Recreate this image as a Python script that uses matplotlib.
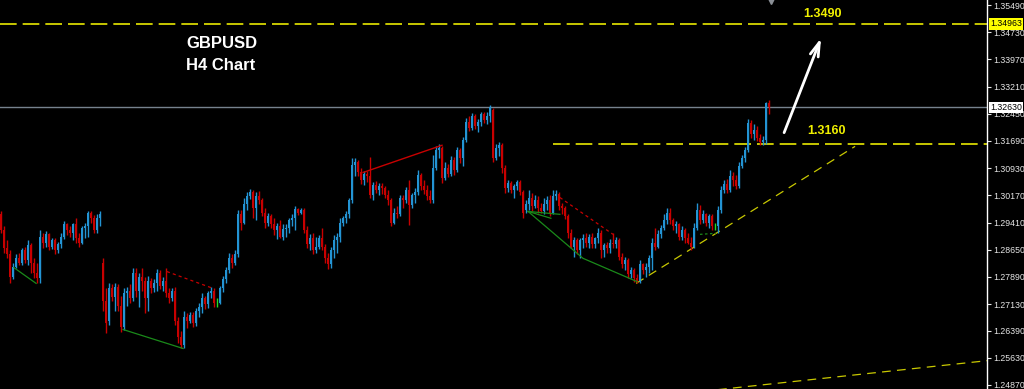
import numpy as np
import matplotlib
matplotlib.use("Agg")
import matplotlib.pyplot as plt
import matplotlib.transforms as mtransforms

# GBPUSD H4 candles (one entry per bar, left to right)
opens = [
    1.2964, 1.2919, 1.2869, 1.2852, 1.2790, 1.2818, 1.2841, 1.2827, 1.2863, 1.2835,
    1.2877, 1.2829, 1.2801, 1.2785, 1.2902, 1.2883, 1.2908, 1.2874, 1.2891, 1.2863,
    1.2880, 1.2902, 1.2936, 1.2919, 1.2911, 1.2936, 1.2897, 1.2885, 1.2925, 1.2930,
    1.2967, 1.2953, 1.2919, 1.2953, 1.2829, 1.2723, 1.2667, 1.2759, 1.2734, 1.2762,
    1.2709, 1.2650, 1.2745, 1.2751, 1.2729, 1.2801, 1.2751, 1.2790, 1.2779, 1.2729,
    1.2779, 1.2757, 1.2773, 1.2801, 1.2765, 1.2779, 1.2745, 1.2729, 1.2751, 1.2667,
    1.2622, 1.2600, 1.2678, 1.2667, 1.2684, 1.2661, 1.2695, 1.2706, 1.2729, 1.2712,
    1.2743, 1.2751, 1.2717, 1.2717, 1.2757, 1.2782, 1.2807, 1.2841, 1.2829, 1.2852,
    1.2964, 1.2941, 1.2992, 1.3014, 1.3025, 1.2981, 1.3014, 1.3003, 1.2969, 1.2941,
    1.2958, 1.2936, 1.2919, 1.2930, 1.2902, 1.2922, 1.2927, 1.2947, 1.2953, 1.2978,
    1.2969, 1.2975, 1.2919, 1.2880, 1.2897, 1.2863, 1.2874, 1.2897, 1.2874, 1.2841,
    1.2824, 1.2863, 1.2891, 1.2902, 1.2941, 1.2953, 1.2964, 1.3003, 1.3101, 1.3109,
    1.3081, 1.3059, 1.3076, 1.3070, 1.3017, 1.3045, 1.3031, 1.3042, 1.3037, 1.3017,
    1.3003, 1.2941, 1.2969, 1.2964, 1.3009, 1.3003, 1.3031, 1.2989, 1.3017, 1.3025,
    1.3073, 1.3042, 1.3031, 1.3014, 1.3003, 1.3093, 1.3143, 1.3149, 1.3065, 1.3093,
    1.3076, 1.3115, 1.3087, 1.3143, 1.3121, 1.3171, 1.3221, 1.3205, 1.3238, 1.3210,
    1.3221, 1.3244, 1.3227, 1.3238, 1.3255, 1.3121, 1.3149, 1.3157, 1.3093, 1.3037,
    1.3051, 1.3031, 1.3042, 1.3053, 1.3025, 1.2975, 1.2992, 1.3009, 1.2986, 1.3003,
    1.2981, 1.2972, 1.2992, 1.3003, 1.2969, 1.3014, 1.3020, 1.2986, 1.2981, 1.2958,
    1.2913, 1.2874, 1.2891, 1.2863, 1.2891, 1.2897, 1.2883, 1.2902, 1.2880, 1.2897,
    1.2913, 1.2863, 1.2877, 1.2869, 1.2885, 1.2880, 1.2891, 1.2846, 1.2824, 1.2835,
    1.2796, 1.2807, 1.2785, 1.2779, 1.2824, 1.2807, 1.2818, 1.2841, 1.2885, 1.2874,
    1.2908, 1.2925, 1.2947, 1.2969, 1.2947, 1.2930, 1.2936, 1.2902, 1.2919, 1.2897,
    1.2885, 1.2874, 1.2925, 1.2975, 1.2947, 1.2964, 1.2941, 1.2958, 1.2930, 1.2930,
    1.2975, 1.3031, 1.3048, 1.3031, 1.3070, 1.3059, 1.3042, 1.3098, 1.3121, 1.3143,
    1.3219, 1.3188, 1.3199, 1.3177, 1.3165, 1.3171, 1.3275,
]
highs = [
    1.2972, 1.2930, 1.2891, 1.2863, 1.2829, 1.2852, 1.2855, 1.2871, 1.2874, 1.2891,
    1.2883, 1.2841, 1.2829, 1.2919, 1.2911, 1.2916, 1.2913, 1.2897, 1.2897, 1.2888,
    1.2911, 1.2944, 1.2941, 1.2930, 1.2941, 1.2955, 1.2913, 1.2930, 1.2941, 1.2972,
    1.2972, 1.2961, 1.2964, 1.2972, 1.2841, 1.2759, 1.2773, 1.2768, 1.2771, 1.2768,
    1.2737, 1.2757, 1.2762, 1.2768, 1.2813, 1.2813, 1.2801, 1.2813, 1.2790, 1.2793,
    1.2785, 1.2782, 1.2810, 1.2807, 1.2790, 1.2815, 1.2757, 1.2759, 1.2762, 1.2678,
    1.2639, 1.2695, 1.2689, 1.2692, 1.2692, 1.2703, 1.2715, 1.2743, 1.2737, 1.2751,
    1.2762, 1.2759, 1.2729, 1.2765, 1.2793, 1.2818, 1.2857, 1.2852, 1.2863, 1.2975,
    1.2975, 1.3009, 1.3025, 1.3034, 1.3031, 1.3025, 1.3028, 1.3009, 1.2981, 1.2967,
    1.2964, 1.2953, 1.2941, 1.2947, 1.2936, 1.2936, 1.2955, 1.2964, 1.2986, 1.2983,
    1.2983, 1.2981, 1.2930, 1.2908, 1.2911, 1.2902, 1.2905, 1.2927, 1.2880, 1.2857,
    1.2874, 1.2905, 1.2911, 1.2955, 1.2958, 1.2972, 1.3011, 1.3121, 1.3121, 1.3115,
    1.3093, 1.3084, 1.3084, 1.3123, 1.3053, 1.3056, 1.3051, 1.3051, 1.3042, 1.3031,
    1.3011, 1.2983, 1.2986, 1.3017, 1.3017, 1.3039, 1.3059, 1.3023, 1.3037, 1.3087,
    1.3079, 1.3059, 1.3045, 1.3031, 1.3129, 1.3154, 1.3160, 1.3154, 1.3109, 1.3104,
    1.3126, 1.3123, 1.3151, 1.3149, 1.3179, 1.3233, 1.3238, 1.3247, 1.3244, 1.3230,
    1.3249, 1.3249, 1.3249, 1.3269, 1.3261, 1.3160, 1.3165, 1.3163, 1.3101, 1.3059,
    1.3056, 1.3048, 1.3059, 1.3059, 1.3031, 1.3003, 1.3031, 1.3023, 1.3017, 1.3014,
    1.2997, 1.3011, 1.3014, 1.3017, 1.3031, 1.3031, 1.3025, 1.2995, 1.2986, 1.2964,
    1.2922, 1.2902, 1.2897, 1.2899, 1.2908, 1.2911, 1.2908, 1.2913, 1.2902, 1.2925,
    1.2919, 1.2885, 1.2888, 1.2894, 1.2913, 1.2902, 1.2897, 1.2857, 1.2846, 1.2841,
    1.2818, 1.2813, 1.2796, 1.2835, 1.2829, 1.2829, 1.2849, 1.2897, 1.2925, 1.2919,
    1.2933, 1.2964, 1.2983, 1.2981, 1.2953, 1.2944, 1.2941, 1.2930, 1.2925, 1.2911,
    1.2902, 1.2941, 1.2995, 1.2989, 1.2975, 1.2969, 1.2964, 1.2964, 1.2941, 1.2986,
    1.3042, 1.3059, 1.3062, 1.3087, 1.3081, 1.3073, 1.3109, 1.3129, 1.3151, 1.3230,
    1.3227, 1.3216, 1.3210, 1.3188, 1.3182, 1.3277, 1.3283,
]
lows = [
    1.2911, 1.2857, 1.2841, 1.2771, 1.2782, 1.2813, 1.2821, 1.2821, 1.2827, 1.2821,
    1.2799, 1.2787, 1.2771, 1.2773, 1.2871, 1.2874, 1.2863, 1.2866, 1.2852, 1.2855,
    1.2871, 1.2894, 1.2905, 1.2902, 1.2891, 1.2883, 1.2874, 1.2880, 1.2899, 1.2902,
    1.2941, 1.2911, 1.2913, 1.2930, 1.2695, 1.2633, 1.2656, 1.2723, 1.2695, 1.2695,
    1.2636, 1.2642, 1.2709, 1.2717, 1.2723, 1.2734, 1.2706, 1.2751, 1.2689, 1.2695,
    1.2745, 1.2748, 1.2751, 1.2754, 1.2751, 1.2734, 1.2717, 1.2723, 1.2656, 1.2605,
    1.2589, 1.2591, 1.2645, 1.2659, 1.2650, 1.2653, 1.2678, 1.2689, 1.2698, 1.2703,
    1.2729, 1.2706, 1.2706, 1.2712, 1.2748, 1.2771, 1.2799, 1.2813, 1.2821, 1.2846,
    1.2919, 1.2936, 1.2975, 1.3006, 1.2955, 1.2947, 1.2992, 1.2958, 1.2925, 1.2930,
    1.2925, 1.2905, 1.2894, 1.2897, 1.2891, 1.2902, 1.2913, 1.2930, 1.2919, 1.2961,
    1.2964, 1.2913, 1.2869, 1.2863, 1.2852, 1.2857, 1.2866, 1.2863, 1.2829, 1.2810,
    1.2815, 1.2841, 1.2855, 1.2888, 1.2930, 1.2941, 1.2953, 1.2997, 1.3070, 1.3070,
    1.3048, 1.3045, 1.3053, 1.3009, 1.3003, 1.3023, 1.3017, 1.3020, 1.3009, 1.2989,
    1.2930, 1.2936, 1.2953, 1.2958, 1.2981, 1.2997, 1.2933, 1.2981, 1.2997, 1.3017,
    1.3031, 1.3020, 1.3003, 1.2995, 1.2997, 1.3087, 1.3121, 1.3051, 1.3059, 1.3067,
    1.3070, 1.3073, 1.3081, 1.3107, 1.3098, 1.3165, 1.3196, 1.3199, 1.3202, 1.3193,
    1.3210, 1.3219, 1.3216, 1.3221, 1.3109, 1.3115, 1.3126, 1.3079, 1.3023, 1.3025,
    1.3023, 1.3011, 1.3031, 1.3017, 1.2953, 1.2967, 1.2975, 1.2972, 1.2981, 1.2967,
    1.2967, 1.2964, 1.2975, 1.2958, 1.2964, 1.3003, 1.2975, 1.2964, 1.2950, 1.2899,
    1.2869, 1.2846, 1.2852, 1.2841, 1.2869, 1.2874, 1.2871, 1.2869, 1.2869, 1.2885,
    1.2843, 1.2846, 1.2857, 1.2857, 1.2871, 1.2869, 1.2835, 1.2813, 1.2807, 1.2787,
    1.2787, 1.2776, 1.2773, 1.2773, 1.2796, 1.2790, 1.2801, 1.2807, 1.2863, 1.2869,
    1.2897, 1.2919, 1.2936, 1.2936, 1.2919, 1.2913, 1.2891, 1.2891, 1.2885, 1.2880,
    1.2863, 1.2869, 1.2919, 1.2936, 1.2941, 1.2930, 1.2925, 1.2919, 1.2919, 1.2913,
    1.2969, 1.3023, 1.3023, 1.3025, 1.3042, 1.3034, 1.3037, 1.3093, 1.3109, 1.3137,
    1.3177, 1.3171, 1.3168, 1.3157, 1.3157, 1.3160, 1.3244,
]
closes = [
    1.2919, 1.2869, 1.2852, 1.2790, 1.2818, 1.2841, 1.2827, 1.2863, 1.2835, 1.2877,
    1.2829, 1.2801, 1.2785, 1.2902, 1.2883, 1.2908, 1.2874, 1.2891, 1.2863, 1.2880,
    1.2902, 1.2936, 1.2919, 1.2911, 1.2936, 1.2897, 1.2885, 1.2925, 1.2930, 1.2967,
    1.2953, 1.2919, 1.2953, 1.2964, 1.2723, 1.2661, 1.2759, 1.2734, 1.2762, 1.2709,
    1.2650, 1.2745, 1.2751, 1.2729, 1.2801, 1.2751, 1.2790, 1.2779, 1.2729, 1.2779,
    1.2757, 1.2773, 1.2801, 1.2765, 1.2779, 1.2745, 1.2729, 1.2751, 1.2667, 1.2622,
    1.2600, 1.2678, 1.2667, 1.2684, 1.2661, 1.2695, 1.2706, 1.2729, 1.2712, 1.2743,
    1.2751, 1.2717, 1.2717, 1.2757, 1.2782, 1.2807, 1.2841, 1.2829, 1.2852, 1.2964,
    1.2941, 1.2992, 1.3014, 1.3025, 1.2981, 1.3014, 1.3003, 1.2969, 1.2941, 1.2958,
    1.2936, 1.2919, 1.2930, 1.2902, 1.2922, 1.2927, 1.2947, 1.2953, 1.2978, 1.2969,
    1.2975, 1.2919, 1.2880, 1.2897, 1.2863, 1.2874, 1.2897, 1.2874, 1.2841, 1.2824,
    1.2863, 1.2891, 1.2902, 1.2941, 1.2953, 1.2964, 1.3003, 1.3101, 1.3109, 1.3081,
    1.3059, 1.3076, 1.3070, 1.3017, 1.3045, 1.3031, 1.3042, 1.3037, 1.3017, 1.3003,
    1.2941, 1.2969, 1.2964, 1.3009, 1.3003, 1.3031, 1.2989, 1.3017, 1.3025, 1.3073,
    1.3042, 1.3031, 1.3014, 1.3003, 1.3093, 1.3143, 1.3149, 1.3065, 1.3093, 1.3076,
    1.3115, 1.3087, 1.3143, 1.3121, 1.3171, 1.3221, 1.3205, 1.3238, 1.3210, 1.3221,
    1.3244, 1.3227, 1.3238, 1.3263, 1.3121, 1.3149, 1.3157, 1.3093, 1.3037, 1.3051,
    1.3031, 1.3042, 1.3053, 1.3025, 1.2969, 1.2992, 1.3009, 1.2986, 1.3003, 1.2981,
    1.2972, 1.2992, 1.3003, 1.2969, 1.3014, 1.3020, 1.2986, 1.2981, 1.2958, 1.2913,
    1.2874, 1.2891, 1.2863, 1.2891, 1.2897, 1.2883, 1.2902, 1.2880, 1.2897, 1.2913,
    1.2863, 1.2877, 1.2869, 1.2885, 1.2880, 1.2891, 1.2846, 1.2824, 1.2835, 1.2796,
    1.2807, 1.2785, 1.2779, 1.2824, 1.2807, 1.2818, 1.2841, 1.2885, 1.2874, 1.2908,
    1.2925, 1.2947, 1.2969, 1.2947, 1.2930, 1.2936, 1.2902, 1.2919, 1.2897, 1.2885,
    1.2874, 1.2925, 1.2975, 1.2947, 1.2964, 1.2941, 1.2958, 1.2930, 1.2930, 1.2975,
    1.3031, 1.3048, 1.3031, 1.3070, 1.3059, 1.3042, 1.3098, 1.3121, 1.3143, 1.3219,
    1.3188, 1.3199, 1.3177, 1.3165, 1.3171, 1.3275, 1.3263,
]

# horizontal levels
target_level = 1.34963
target_text = "1.3490"
support_level = 1.3160
support_text = "1.3160"
support_start = 184
bid_price = 1.32630

# drawn objects: (bar index list, price list)
trend_up = ([211.7, 284.7], [1.2771, 1.3154])
trend_low = ([239.0, 328.7], [1.2474, 1.2555])
green_lines = [
    ([4.3, 11.7], [1.2815, 1.2771]),
    ([40.7, 60.7], [1.2642, 1.2589]),
    ([175.7, 194.0, 212.0], [1.2972, 1.2841, 1.2776]),
    ([175.7, 186.3], [1.2972, 1.2964]),
    ([175.7, 183.3], [1.2972, 1.2953]),
]
green_dotted = ([233.0, 238.3], [1.2908, 1.2911])
red_dotted = [
    ([55.3, 70.7], [1.2804, 1.2757]),
    ([186.3, 204.0], [1.3011, 1.2908]),
]
red_line = ([120.7, 147.0], [1.3081, 1.3157])
arrow_from = (260.7, 1.3185)
arrow_to = (273.7, 1.3464)
shift_mark = 256.7

tick_values = [1.35490, 1.34730, 1.33970, 1.33210, 1.32450, 1.31690, 1.30930,
               1.30170, 1.29410, 1.28650, 1.27890, 1.27130, 1.26390, 1.25630, 1.24870]
tick_labels = ["1.35490", "1.34730", "1.33970", "1.33210", "1.32450", "1.31690", "1.30930",
               "1.30170", "1.29410", "1.28650", "1.27890", "1.27130", "1.26390", "1.25630", "1.24870"]

UP = "#2394d4"
DOWN = "#c80000"
DOJI = "#22dd22"
YELLOW = "#e8e800"
LABEL_FONT = "Liberation Sans"

assert len(opens) == len(highs) == len(lows) == len(closes)

op = np.array(opens)
hi = np.array(highs)
lo = np.array(lows)
cl = np.array(closes)
idx = np.arange(len(cl))
colors = np.where(cl > op, UP, np.where(cl < op, DOWN, DOJI))

fig = plt.figure(figsize=(10.24, 3.89), dpi=100, facecolor="black")
ax = fig.add_axes([0, 0, 987 / 1024, 1])
ax.set_facecolor("black")

ax.vlines(idx, lo, hi, colors=colors, lw=1.0, zorder=3)
ax.bar(idx, cl - op, bottom=op, width=0.8, color=colors, linewidth=0, zorder=3)

# levels
ax.axhline(bid_price, color="#76828e", lw=1.0, zorder=2)
ax.axhline(target_level, color=YELLOW, lw=1.2, linestyle=(0, (10, 3.6)), zorder=2)
ax.plot([support_start, 330], [support_level, support_level], color=YELLOW, lw=1.2,
        linestyle=(0, (10, 3.6)), zorder=2)

# trend lines
ax.plot(*trend_up, color="#c8c800", lw=0.9, linestyle=(0, (7, 5)), zorder=2)
ax.plot(*trend_low, color="#c8c800", lw=0.9, linestyle=(0, (7, 5)), zorder=2)
for xs, ys in green_lines:
    ax.plot(xs, ys, color="#1a8a1a", lw=0.9, zorder=4)
ax.plot(*green_dotted, color="#1a8a1a", lw=0.9, linestyle=(0, (2, 2)), zorder=4)
for xs, ys in red_dotted:
    ax.plot(xs, ys, color="#c80000", lw=0.9, linestyle=(0, (2.5, 2.5)), zorder=4)
ax.plot(*red_line, color="#c80000", lw=1.0, zorder=4)

ax.annotate("", xy=arrow_to, xytext=arrow_from,
            arrowprops=dict(arrowstyle="->,head_length=1.0,head_width=0.3",
                            color="white", lw=2), zorder=5)

ax.text(273.7, 1.3524, target_text, color="#f0f000", fontsize=9, fontweight="bold",
        family=LABEL_FONT, ha="center", va="center")
ax.text(275.0, 1.3196, support_text, color="#f0f000", fontsize=9, fontweight="bold",
        family=LABEL_FONT, ha="center", va="center")

fig.text(186 / 1024, 1 - 44 / 389, "GBPUSD", color="white", fontsize=12,
         fontweight="bold", family=LABEL_FONT, ha="left", va="center")
fig.text(186 / 1024, 1 - 66 / 389, "H4 Chart", color="white", fontsize=12,
         fontweight="bold", family=LABEL_FONT, ha="left", va="center")

# chart shift marker
ax.plot([shift_mark], [1.0], marker="v", color="#8a8f96", markersize=6,
        transform=mtransforms.blended_transform_factory(ax.transData, ax.transAxes),
        clip_on=False)

ax.set_xlim(-1 / 3, 986 / 3)
ax.set_ylim(1.24758, 1.35630)
ax.set_xticks([])
ax.yaxis.tick_right()
ax.set_yticks(tick_values)
ax.set_yticklabels(tick_labels, family=LABEL_FONT)
ax.tick_params(axis="y", colors="#e6e6e6", labelsize=6.3, length=3, width=0.8, pad=1.5)
for side in ("left", "top", "bottom"):
    ax.spines[side].set_visible(False)
ax.spines["right"].set_color("white")
ax.spines["right"].set_linewidth(1.0)

# price tags on the axis
tag = mtransforms.blended_transform_factory(ax.transAxes, ax.transData)
ax.text(1.003, target_level, "%.5f" % target_level, transform=tag, fontsize=6.3,
        family=LABEL_FONT, color="black", va="center", ha="left", clip_on=False,
        bbox=dict(boxstyle="square,pad=0.15", fc="#ffff00", ec="none"), zorder=6)
ax.text(1.003, bid_price, "%.5f" % bid_price, transform=tag, fontsize=6.3,
        family=LABEL_FONT, color="black", va="center", ha="left", clip_on=False,
        bbox=dict(boxstyle="square,pad=0.15", fc="white", ec="none"), zorder=6)

fig.savefig("out.png", dpi=100, facecolor="black")
